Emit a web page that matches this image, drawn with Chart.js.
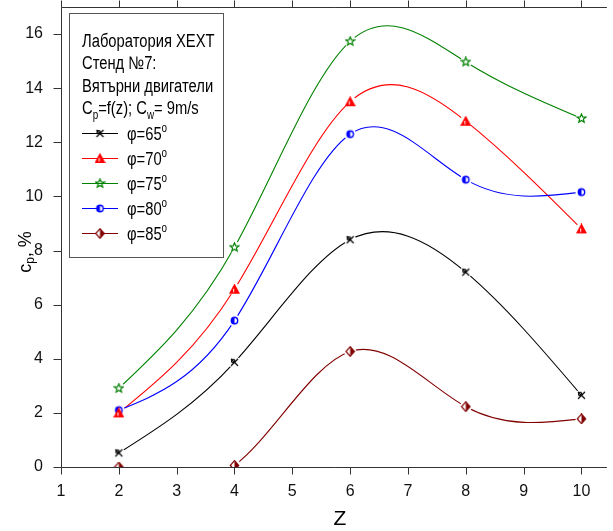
<!DOCTYPE html>
<html>
<head>
<meta charset="utf-8">
<script src="https://cdn.jsdelivr.net/npm/chart.js@4"></script>
<style>
html, body { margin: 0; padding: 0; background: #fff; }
#wrap { width: 613px; height: 531px; }
</style>
</head>
<body>
<div id="wrap"><canvas id="cpChart" width="613" height="531"></canvas></div>
<script>
// values
var zValues = [2, 4, 6, 8, 10];
var phi65 = [0.52, 3.87, 8.40, 7.20, 2.65];
var phi70 = [2.00, 6.57, 13.50, 12.78, 8.80];
var phi75 = [2.91, 8.12, 15.73, 14.97, 12.88];
var phi80 = [2.10, 5.41, 12.30, 10.62, 10.16];
var phi85 = [0.00, 0.06, 4.27, 2.23, 1.78];
var phiAngles = ['65', '70', '75', '80', '85'];

var xTickLabels = [1, 2, 3, 4, 5, 6, 7, 8, 9, 10];
var yTickLabels = [0, 2, 4, 6, 8, 10, 12, 14, 16];

var legendTitle = [
    ['Лаборатория ХЕХТ'],
    ['Стенд №7:'],
    ['Вятърни двигатели'],
    ['C', {sub: 'p'}, '=f(z); C', {sub: 'w'}, '= 9m/s']
];
var xTitle = 'Z';
var yTitle = ['c', {sub: 'p'}, ', %'];

var FONT = '"Liberation Sans", Arial, sans-serif';

function makeMarker(kind, color) {
    var c = document.createElement('canvas');
    c.width = 11; c.height = 11;
    var g = c.getContext('2d');
    g.translate(5.5, 5.5);
    g.strokeStyle = color;
    g.fillStyle = color;
    g.lineWidth = 1.2;
    g.beginPath();
    if (kind === 'cross') {
        g.moveTo(-3.5, -3.5); g.lineTo(3.5, 3.5);
        g.moveTo(3.5, -3.5); g.lineTo(-3.5, 3.5);
        g.stroke();
        g.beginPath();
        g.arc(-1.3, -1.3, 1.7, 0, Math.PI * 2);
        g.stroke();
    } else if (kind === 'triangle') {
        g.moveTo(0, -4.5); g.lineTo(4.5, 4); g.lineTo(-4.5, 4); g.closePath();
        g.fill(); g.stroke();
        g.strokeStyle = '#fff'; g.lineWidth = 1;
        g.beginPath(); g.moveTo(-0.8, -0.5); g.lineTo(-0.8, 3); g.stroke();
    } else if (kind === 'star') {
        for (var i = 0; i < 10; i++) {
            var r = i % 2 === 0 ? 4.6 : 2.0;
            var a = -Math.PI / 2 + i * Math.PI / 5;
            if (i === 0) g.moveTo(r * Math.cos(a), r * Math.sin(a));
            else g.lineTo(r * Math.cos(a), r * Math.sin(a));
        }
        g.closePath();
        g.stroke();
    } else if (kind === 'circle') {
        g.arc(0, 0, 3.2, 0, Math.PI * 2);
        g.fillStyle = '#fff'; g.fill();
        g.lineWidth = 1.4; g.stroke();
        g.beginPath(); g.arc(0, 0, 3.2, Math.PI / 2, Math.PI * 1.5);
        g.fillStyle = color; g.fill();
    } else if (kind === 'diamond') {
        g.moveTo(0, -4.8); g.lineTo(4.2, 0); g.lineTo(0, 4.8); g.lineTo(-4.2, 0); g.closePath();
        g.fillStyle = '#fff'; g.fill(); g.stroke();
        g.beginPath(); g.moveTo(0, -4.8); g.lineTo(4.2, 0); g.lineTo(0, 4.8); g.closePath();
        g.fillStyle = color; g.fill();
    }
    return c;
}

function series(values, color, kind) {
    var marker = makeMarker(kind, color);
    return {
        data: zValues.map(function (z, i) { return {x: z, y: values[i]}; }),
        borderColor: color,
        backgroundColor: color,
        borderWidth: 1.1,
        showLine: false,
        pointStyle: marker,
        pointRadius: 5,
        clip: 0,
        marker: marker
    };
}

var datasets = [
    series(phi65, '#000000', 'cross'),
    series(phi70, '#ff0000', 'triangle'),
    series(phi75, '#008000', 'star'),
    series(phi80, '#0000ff', 'circle'),
    series(phi85, '#800000', 'diamond')
];

// slopes of a natural cubic spline through the points (like the original plot's spline)
function splineSlopes(xs, ys) {
    var n = xs.length, h = [], M = [], i;
    for (i = 0; i < n - 1; i++) h.push(xs[i + 1] - xs[i]);
    for (i = 0; i < n; i++) M.push(0);
    var diag = [], up = [], low = [], rhs = [];
    for (i = 1; i < n - 1; i++) {
        low.push(h[i - 1]);
        diag.push(2 * (h[i - 1] + h[i]));
        up.push(h[i]);
        rhs.push(6 * ((ys[i + 1] - ys[i]) / h[i] - (ys[i] - ys[i - 1]) / h[i - 1]));
    }
    var m = diag.length;
    for (i = 1; i < m; i++) {
        var w = low[i] / diag[i - 1];
        diag[i] -= w * up[i - 1];
        rhs[i] -= w * rhs[i - 1];
    }
    var sol = [];
    for (i = m - 1; i >= 0; i--) {
        sol[i] = (rhs[i] - (i < m - 1 ? up[i] * sol[i + 1] : 0)) / diag[i];
    }
    for (i = 0; i < m; i++) M[i + 1] = sol[i];
    var s = [];
    for (i = 0; i < n; i++) {
        if (i < n - 1) s.push((ys[i + 1] - ys[i]) / h[i] - h[i] * (2 * M[i] + M[i + 1]) / 6);
        else s.push((ys[i] - ys[i - 1]) / h[i - 1] + h[i - 1] * (M[i - 1] + 2 * M[i]) / 6);
    }
    return s;
}

// draws text pieces with sub/superscripts; scaleX squeezes the glyphs
function drawRich(ctx, parts, x, y, size, scaleX, measureOnly, subShift) {
    var cx = 0;
    ctx.save();
    ctx.translate(x, y);
    ctx.scale(scaleX, 1);
    ctx.textBaseline = 'alphabetic';
    ctx.textAlign = 'left';
    parts.forEach(function (p) {
        var txt = p, dy = 0, fs = size;
        if (typeof p === 'object') {
            txt = p.sub || p.sup;
            fs = Math.round(size * 0.65);
            dy = p.sub ? (subShift || size * 0.28) : -size * 0.42;
        }
        ctx.font = fs + 'px ' + FONT;
        if (!measureOnly) ctx.fillText(txt, cx, dy);
        cx += ctx.measureText(txt).width;
    });
    ctx.restore();
    return cx * scaleX;
}

function line(ctx, x1, y1, x2, y2) {
    ctx.beginPath();
    ctx.moveTo(x1, y1);
    ctx.lineTo(x2, y2);
    ctx.stroke();
}

var axesPlugin = {
    id: 'axesFrame',
    beforeDatasetsDraw: function (chart) {
        var ctx = chart.ctx, a = chart.chartArea;
        var xs = chart.scales.x, ys = chart.scales.y;
        var L = Math.round(a.left) + 0.5, B = Math.round(a.bottom) + 0.5, T = Math.round(a.top) + 0.5;
        ctx.save();
        ctx.strokeStyle = '#333';
        ctx.lineWidth = 1;
        line(ctx, L, T, L, B);
        line(ctx, L, B, a.right, B);
        line(ctx, L, T, a.right, T);
        ys.ticks.forEach(function (t) {
            var py = Math.round(ys.getPixelForValue(t.value)) + 0.5;
            var len = t.value % 2 === 0 ? 8 : 5;
            line(ctx, L - len, py, L, py);
        });
        xs.ticks.forEach(function (t) {
            var px = Math.round(xs.getPixelForValue(t.value)) + 0.5;
            var len = Number.isInteger(t.value) ? 7 : 4;
            line(ctx, px, B, px, B + len);
            line(ctx, px, T, px, T - len);
        });
        ctx.restore();

        // spline curves through each series, then a white gap around every point
        ctx.save();
        ctx.beginPath();
        ctx.rect(a.left, a.top, a.right - a.left, a.bottom - a.top);
        ctx.clip();
        chart.data.datasets.forEach(function (ds) {
            var px = ds.data.map(function (p) { return p.x; });
            var py = ds.data.map(function (p) { return p.y; });
            var sl = splineSlopes(px, py);
            ctx.strokeStyle = ds.borderColor;
            ctx.lineWidth = ds.borderWidth;
            ctx.beginPath();
            ctx.moveTo(xs.getPixelForValue(px[0]), ys.getPixelForValue(py[0]));
            for (var i = 0; i < px.length - 1; i++) {
                var h = (px[i + 1] - px[i]) / 3;
                ctx.bezierCurveTo(
                    xs.getPixelForValue(px[i] + h), ys.getPixelForValue(py[i] + h * sl[i]),
                    xs.getPixelForValue(px[i + 1] - h), ys.getPixelForValue(py[i + 1] - h * sl[i + 1]),
                    xs.getPixelForValue(px[i + 1]), ys.getPixelForValue(py[i + 1]));
            }
            ctx.stroke();
        });
        ctx.fillStyle = '#fff';
        chart.data.datasets.forEach(function (ds) {
            ds.data.forEach(function (p) {
                ctx.beginPath();
                ctx.arc(xs.getPixelForValue(p.x), ys.getPixelForValue(p.y), 6, 0, Math.PI * 2);
                ctx.fill();
            });
        });
        ctx.restore();
    },
    afterDraw: function (chart) {
        var ctx = chart.ctx;
        ctx.save();
        ctx.fillStyle = '#000';
        // axis titles
        ctx.font = '21px ' + FONT;
        ctx.textAlign = 'center';
        ctx.textBaseline = 'middle';
        ctx.fillText(xTitle, 340, 519);
        ctx.translate(31, 252);
        ctx.rotate(-Math.PI / 2);
        var w = drawRich(ctx, yTitle, 0, 0, 18, 1, true, 3);
        drawRich(ctx, yTitle, -w / 2, 0, 18, 1, false, 3);
        ctx.restore();

        // legend box
        ctx.save();
        ctx.fillStyle = '#fff';
        ctx.fillRect(69, 13, 154, 244);
        ctx.strokeStyle = '#555';
        ctx.lineWidth = 1;
        ctx.strokeRect(69.5, 13.5, 154, 244);
        ctx.fillStyle = '#000';
        var rowY = [40, 62, 85, 107];
        legendTitle.forEach(function (parts, i) {
            drawRich(ctx, parts, 82, rowY[i] + 6.5, 18, 0.82);
        });
        chart.data.datasets.forEach(function (ds, i) {
            var cy = 133 + i * 25;
            ctx.strokeStyle = ds.borderColor;
            ctx.lineWidth = 1.1;
            line(ctx, 82, cy + 0.5, 118, cy + 0.5);
            ctx.drawImage(ds.marker, 100 - 5.5, cy + 0.5 - 5.5);
            ctx.fillStyle = '#000';
            drawRich(ctx, ['φ=' + phiAngles[i], {sup: 'o'}], 127, cy + 6.5, 18, 0.82);
        });
        ctx.restore();
    }
};

var ctx = document.getElementById('cpChart').getContext('2d');
var cpChart = new Chart(ctx, {
    type: 'line',
    data: { datasets: datasets },
    options: {
        responsive: false,
        animation: false,
        devicePixelRatio: 1,
        layout: { padding: { top: 7, left: 0, right: 0, bottom: 0 } },
        plugins: { legend: { display: false }, tooltip: { enabled: false } },
        scales: {
            x: {
                type: 'linear',
                min: 1,
                max: 10.44,
                bounds: 'data',
                grid: { display: false },
                border: { display: false },
                afterBuildTicks: function (s) {
                    var t = [];
                    for (var v = 1; v <= 10; v += 0.5) t.push({value: v});
                    s.ticks = t;
                },
                afterFit: function (s) {
                    s.height = 64;
                    s.paddingLeft = 0; s.paddingRight = 0;
                },
                ticks: {
                    autoSkip: false,
                    maxRotation: 0,
                    padding: 7,
                    color: '#111',
                    font: { family: FONT, size: 16 },
                    callback: function (v) { return xTickLabels.indexOf(v) >= 0 ? String(v) : null; }
                }
            },
            y: {
                min: 0,
                max: 17,
                bounds: 'data',
                grid: { display: false },
                border: { display: false },
                afterBuildTicks: function (s) {
                    var t = [];
                    for (var v = 0; v <= 17; v += 0.5) t.push({value: v});
                    s.ticks = t;
                },
                afterFit: function (s) {
                    s.width = 61;
                    s.paddingTop = 0; s.paddingBottom = 0;
                },
                ticks: {
                    autoSkip: false,
                    padding: 10,
                    color: '#111',
                    font: { family: FONT, size: 16 },
                    callback: function (v) { return yTickLabels.indexOf(v) >= 0 ? String(v) : null; }
                }
            }
        }
    },
    plugins: [axesPlugin]
});
</script>
</body>
</html>
